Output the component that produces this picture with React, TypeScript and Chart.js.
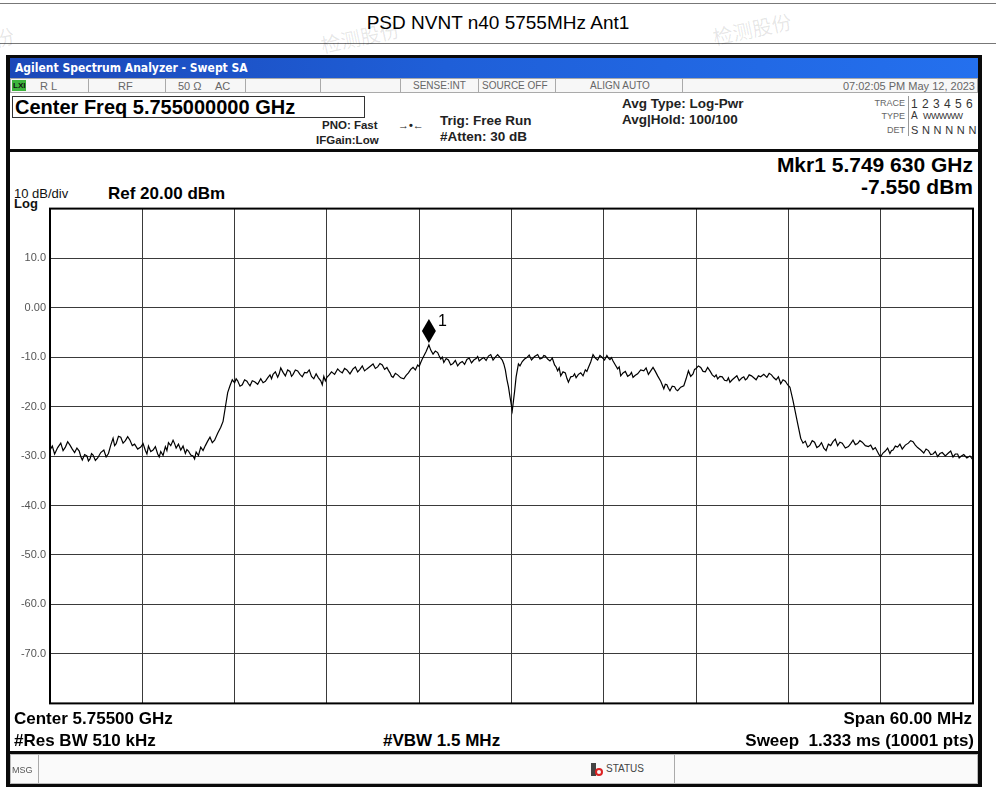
import React, { useEffect, useRef } from "react";
import { Chart, registerables } from "chart.js";

Chart.register(...registerables);

// ---- data (MHz, dBm) ----
const freqMHz = [
  5725.0, 5725.15, 5725.3, 5725.5, 5725.7, 5725.85, 5726.0, 5726.15, 5726.3, 5726.45,
  5726.6, 5726.75, 5726.9, 5727.0, 5727.1, 5727.25, 5727.4, 5727.5, 5727.6, 5727.7,
  5727.8, 5727.95, 5728.1, 5728.3, 5728.5, 5728.65, 5728.8, 5728.95, 5729.1, 5729.2,
  5729.3, 5729.45, 5729.6, 5729.75, 5729.9, 5730.05, 5730.2, 5730.35, 5730.5, 5730.7,
  5730.9, 5731.05, 5731.2, 5731.3, 5731.4, 5731.55, 5731.7, 5731.85, 5732.0, 5732.1,
  5732.2, 5732.35, 5732.5, 5732.6, 5732.7, 5732.85, 5733.0, 5733.1, 5733.2, 5733.35,
  5733.5, 5733.65, 5733.8, 5733.9, 5734.0, 5734.15, 5734.3, 5734.4, 5734.5, 5734.65,
  5734.8, 5734.95, 5735.1, 5735.25, 5735.4, 5735.55, 5735.7, 5735.9, 5736.1, 5736.25,
  5736.4, 5736.55, 5736.7, 5736.85, 5737.0, 5737.1, 5737.2, 5737.35, 5737.5, 5737.65,
  5737.8, 5737.9, 5738.0, 5738.15, 5738.3, 5738.5, 5738.7, 5738.85, 5739.0, 5739.15,
  5739.3, 5739.4, 5739.5, 5739.65, 5739.8, 5739.9, 5740.0, 5740.15, 5740.3, 5740.45,
  5740.6, 5740.7, 5740.8, 5740.95, 5741.1, 5741.25, 5741.4, 5741.55, 5741.7, 5741.85,
  5742.0, 5742.15, 5742.3, 5742.45, 5742.6, 5742.7, 5742.8, 5742.9, 5743.0, 5743.15,
  5743.3, 5743.5, 5743.7, 5743.85, 5744.0, 5744.15, 5744.3, 5744.5, 5744.7, 5744.85,
  5745.0, 5745.15, 5745.3, 5745.45, 5745.6, 5745.8, 5746.0, 5746.15, 5746.3, 5746.45,
  5746.6, 5746.75, 5746.9, 5747.0, 5747.1, 5747.2, 5747.3, 5747.45, 5747.6, 5747.8,
  5748.0, 5748.15, 5748.3, 5748.45, 5748.6, 5748.75, 5748.9, 5749.0, 5749.1, 5749.2,
  5749.3, 5749.45, 5749.63, 5749.75, 5749.9, 5750.05, 5750.2, 5750.3, 5750.4, 5750.5,
  5750.6, 5750.75, 5750.9, 5751.05, 5751.2, 5751.35, 5751.5, 5751.65, 5751.8, 5751.95,
  5752.1, 5752.25, 5752.4, 5752.55, 5752.7, 5752.8, 5752.9, 5753.05, 5753.2, 5753.35,
  5753.5, 5753.65, 5753.8, 5753.95, 5754.1, 5754.2, 5754.3, 5754.4, 5754.5, 5754.6,
  5754.7, 5754.8, 5754.9, 5755.05, 5755.2, 5755.3, 5755.45, 5755.55, 5755.7, 5755.85,
  5756.0, 5756.15, 5756.3, 5756.5, 5756.7, 5756.85, 5757.0, 5757.1, 5757.2, 5757.35,
  5757.5, 5757.65, 5757.8, 5757.9, 5758.0, 5758.1, 5758.2, 5758.35, 5758.5, 5758.6,
  5758.7, 5758.85, 5759.0, 5759.1, 5759.2, 5759.35, 5759.5, 5759.65, 5759.8, 5759.9,
  5760.0, 5760.15, 5760.3, 5760.45, 5760.6, 5760.75, 5760.9, 5761.05, 5761.2, 5761.3,
  5761.4, 5761.5, 5761.6, 5761.75, 5761.9, 5762.0, 5762.1, 5762.25, 5762.4, 5762.55,
  5762.7, 5762.8, 5762.9, 5763.05, 5763.2, 5763.4, 5763.6, 5763.75, 5763.9, 5764.05,
  5764.2, 5764.35, 5764.5, 5764.7, 5764.9, 5765.0, 5765.1, 5765.2, 5765.3, 5765.45,
  5765.6, 5765.7, 5765.8, 5766.0, 5766.2, 5766.35, 5766.5, 5766.65, 5766.8, 5766.9,
  5767.0, 5767.15, 5767.3, 5767.45, 5767.6, 5767.75, 5767.9, 5768.05, 5768.2, 5768.3,
  5768.4, 5768.55, 5768.7, 5768.85, 5769.0, 5769.1, 5769.2, 5769.35, 5769.5, 5769.65,
  5769.8, 5769.95, 5770.1, 5770.2, 5770.3, 5770.45, 5770.6, 5770.75, 5770.9, 5771.05,
  5771.2, 5771.4, 5771.6, 5771.75, 5771.9, 5772.05, 5772.2, 5772.35, 5772.5, 5772.65,
  5772.8, 5772.95, 5773.1, 5773.3, 5773.6, 5773.8, 5773.95, 5774.1, 5774.25, 5774.4,
  5774.55, 5774.7, 5774.85, 5775.0, 5775.15, 5775.3, 5775.45, 5775.6, 5775.75, 5775.9,
  5776.05, 5776.2, 5776.35, 5776.5, 5776.7, 5776.9, 5777.05, 5777.2, 5777.35, 5777.5,
  5777.65, 5777.8, 5778.0, 5778.2, 5778.35, 5778.5, 5778.65, 5778.8, 5778.9, 5779.0,
  5779.15, 5779.3, 5779.45, 5779.6, 5779.7, 5779.8, 5779.95, 5780.1, 5780.25, 5780.4,
  5780.6, 5780.8, 5780.95, 5781.1, 5781.25, 5781.4, 5781.6, 5781.8, 5781.95, 5782.1,
  5782.25, 5782.4, 5782.55, 5782.7, 5782.85, 5783.0, 5783.2, 5783.4, 5783.55, 5783.7,
  5783.85, 5784.0, 5784.1, 5784.2, 5784.4, 5784.6, 5784.8, 5785.0,
];

const levelDbm = [
  -28.8, -28.0, -29.6, -28.3, -27.4, -28.9, -28.2, -27.1, -27.8, -28.6,
  -29.3, -28.4, -29.0, -30.1, -30.8, -29.7, -30.0, -31.0, -30.6, -29.5,
  -29.8, -30.9, -30.4, -29.3, -28.8, -30.2, -29.5, -27.8, -26.4, -27.9,
  -27.5, -26.0, -26.2, -27.4, -26.9, -26.1, -26.8, -27.9, -27.6, -28.6,
  -28.2, -27.5, -28.9, -29.6, -28.0, -29.1, -28.8, -28.1, -29.6, -30.2,
  -29.1, -29.9, -28.1, -28.9, -27.3, -27.9, -26.8, -27.5, -28.4, -27.6,
  -28.8, -28.0, -29.5, -28.7, -29.0, -29.8, -30.0, -30.6, -29.2, -29.9,
  -28.2, -28.9, -27.9, -27.0, -26.2, -27.3, -26.8, -25.4, -24.2, -23.0,
  -20.1, -17.2, -15.8, -14.6, -15.2, -14.4, -14.8, -15.9, -15.6, -14.6,
  -14.9, -15.4, -15.8, -14.8, -15.0, -15.5, -14.4, -15.2, -14.9, -14.2,
  -13.6, -14.4, -13.5, -13.0, -14.1, -13.4, -12.2, -13.1, -13.8, -12.6,
  -12.9, -13.9, -13.5, -12.6, -12.8, -13.5, -14.0, -13.1, -13.2, -12.6,
  -13.9, -14.4, -13.4, -14.2, -14.8, -15.6, -13.9, -14.8, -14.1, -13.6,
  -13.0, -13.5, -12.4, -12.9, -13.2, -12.3, -12.6, -13.4, -12.4, -12.0,
  -13.0, -12.5, -11.8, -12.8, -12.4, -11.9, -11.4, -12.3, -12.0, -11.3,
  -11.6, -12.5, -12.1, -12.7, -13.2, -13.9, -14.1, -13.3, -13.6, -14.2,
  -14.4, -13.7, -13.2, -12.5, -12.1, -12.6, -11.6, -11.9, -11.1, -10.4,
  -9.8, -8.9, -7.55, -8.6, -9.4, -8.8, -9.1, -9.8, -10.4, -10.0,
  -11.1, -10.3, -10.6, -11.6, -11.3, -10.7, -11.8, -11.2, -10.9, -11.5,
  -10.5, -10.2, -11.2, -10.6, -10.3, -9.9, -10.8, -10.4, -10.1, -10.7,
  -9.8, -9.5, -10.6, -10.0, -9.5, -9.9, -10.2, -10.6, -11.4, -12.6,
  -14.5, -16.0, -18.0, -20.8, -17.0, -14.0, -11.4, -11.8, -10.9, -10.4,
  -10.1, -9.6, -10.6, -9.9, -9.5, -10.4, -10.2, -9.7, -9.8, -10.4,
  -10.8, -10.2, -11.6, -12.0, -12.8, -12.2, -13.8, -13.0, -13.2, -14.3,
  -15.1, -14.0, -13.9, -13.4, -14.2, -13.5, -13.2, -13.8, -12.6, -12.9,
  -12.1, -11.0, -9.5, -10.2, -10.6, -9.7, -10.1, -10.6, -9.7, -10.2,
  -10.5, -10.1, -10.8, -11.6, -12.4, -12.0, -13.8, -13.2, -12.9, -13.9,
  -13.6, -13.1, -14.1, -13.7, -13.4, -12.6, -12.8, -12.2, -13.5, -12.8,
  -12.1, -12.9, -13.8, -14.9, -16.4, -15.5, -15.6, -16.3, -16.8, -15.9,
  -16.0, -16.6, -16.8, -16.1, -15.8, -14.4, -12.8, -13.9, -13.4, -12.5,
  -12.3, -11.8, -12.1, -12.9, -13.0, -12.1, -12.8, -13.6, -14.0, -13.6,
  -14.4, -13.9, -14.0, -14.7, -14.8, -14.2, -15.1, -14.6, -14.2, -13.8,
  -14.8, -14.3, -14.0, -14.6, -14.4, -13.6, -13.8, -14.2, -14.6, -13.8,
  -14.0, -13.5, -14.1, -13.3, -13.6, -14.2, -14.6, -14.0, -15.4, -14.6,
  -14.9, -15.6, -16.1, -18.8, -23.4, -26.4, -27.4, -27.0, -28.2, -27.8,
  -26.9, -27.2, -28.3, -28.0, -27.3, -28.4, -28.9, -27.6, -27.9, -27.1,
  -26.6, -27.9, -27.2, -27.4, -28.4, -28.1, -27.5, -26.8, -27.7, -27.5,
  -26.9, -27.2, -27.9, -28.1, -27.8, -28.7, -28.3, -29.2, -29.8, -30.1,
  -29.4, -29.0, -28.4, -29.5, -28.9, -28.8, -28.0, -28.2, -27.6, -28.6,
  -27.8, -27.4, -26.9, -27.1, -27.8, -28.3, -28.8, -29.4, -28.6, -28.9,
  -29.7, -29.6, -29.1, -30.1, -29.5, -29.3, -30.0, -29.4, -29.0, -30.2,
  -29.6, -29.6, -30.4, -30.1, -29.7, -30.4, -30.0, -30.8,
];

const yTickValues = [20, 10, 0, -10, -20, -30, -40, -50, -60, -70, -80];
const yTickLabels = ["", "10.0", "0.00", "-10.0", "-20.0", "-30.0", "-40.0", "-50.0", "-60.0", "-70.0", ""];

const startMHz = 5725;
const stopMHz = 5785;
const freqDivMHz = 6;
const refLevelDbm = 20;
const bottomLevelDbm = -80;
const dbPerDiv = 10;

const markerFreqMHz = 5749.63;
const markerLevelDbm = -7.55;
const markerLabel = "1";

const FONT = '"Liberation Sans", Arial, Helvetica, sans-serif';

type TProps = {
  x: number;
  y: number;
  s: number;
  b?: boolean;
  a?: "left" | "right" | "center";
  c?: string;
  f?: string;
  ls?: number;
  children: React.ReactNode;
};

function T({ x, y, s, b, a = "left", c = "#000", f = FONT, ls, children }: TProps) {
  const style: React.CSSProperties = {
    position: "absolute",
    top: y,
    fontSize: s,
    fontWeight: b ? "bold" : "normal",
    color: c,
    fontFamily: f,
    lineHeight: 1,
    whiteSpace: "pre",
    transform: "translateY(-50%)",
    letterSpacing: ls,
  };
  if (a === "left") style.left = x;
  else if (a === "right") style.right = 996 - x;
  else {
    style.left = x;
    style.transform = "translate(-50%,-50%)";
  }
  return <div style={style}>{children}</div>;
}

function Box({ x, y, w, h, bg, bd }: { x: number; y: number; w: number; h: number; bg?: string; bd?: string }) {
  return (
    <div
      style={{
        position: "absolute",
        left: x,
        top: y,
        width: w,
        height: h,
        background: bg,
        border: bd,
        boxSizing: "border-box",
      }}
    />
  );
}

const framePlugin = {
  id: "saFrame",
  afterDraw(chart: any) {
    const { ctx, chartArea: a, scales } = chart;
    ctx.save();
    ctx.strokeStyle = "#000";
    ctx.lineWidth = 2;
    ctx.strokeRect(a.left, a.top, a.right - a.left, a.bottom - a.top);
    const x = scales.x.getPixelForValue(markerFreqMHz);
    const y = scales.y.getPixelForValue(markerLevelDbm);
    ctx.fillStyle = "#000";
    ctx.beginPath();
    ctx.moveTo(x, y - 2);
    ctx.lineTo(x + 7, y - 14);
    ctx.lineTo(x, y - 26);
    ctx.lineTo(x - 7, y - 14);
    ctx.closePath();
    ctx.fill();
    ctx.font = `16px ${FONT}`;
    ctx.textBaseline = "alphabetic";
    ctx.fillText(markerLabel, x + 9, y - 19);
    ctx.restore();
  },
};

function SAChart() {
  const ref = useRef<HTMLCanvasElement | null>(null);
  useEffect(() => {
    if (!ref.current) return;
    const data = freqMHz.map((f, i) => ({ x: f, y: levelDbm[i] }));
    const chart = new Chart(ref.current, {
      type: "line",
      data: {
        datasets: [
          {
            data,
            borderColor: "#000",
            borderWidth: 1.2,
            pointRadius: 0,
            tension: 0,
            fill: false,
          },
        ],
      },
      options: {
        animation: false,
        responsive: true,
        maintainAspectRatio: false,
        layout: { padding: { left: 0, right: 3, top: 8, bottom: 8 } },
        plugins: { legend: { display: false }, tooltip: { enabled: false }, title: { display: false } },
        scales: {
          x: {
            type: "linear",
            min: startMHz,
            max: stopMHz,
            ticks: { display: false, stepSize: freqDivMHz },
            grid: { drawTicks: false, color: "#3a3a3a", lineWidth: 1 },
            border: { display: false },
            afterFit: (s: any) => {
              s.height = 0;
            },
          },
          y: {
            type: "linear",
            min: bottomLevelDbm,
            max: refLevelDbm,
            ticks: {
              stepSize: dbPerDiv,
              padding: 4,
              color: "#555",
              font: { size: 11, family: FONT },
              callback: (v: any) => {
                const i = yTickValues.indexOf(Number(v));
                return i >= 0 && yTickLabels[i] ? yTickLabels[i] : null;
              },
            },
            grid: { drawTicks: false, color: "#3a3a3a", lineWidth: 1 },
            border: { display: false },
            afterFit: (s: any) => {
              s.width = 40;
            },
          },
        },
      },
      plugins: [framePlugin],
    } as any);
    return () => chart.destroy();
  }, []);
  return <canvas ref={ref} style={{ width: "100%", height: "100%" }} />;
}

export default function App() {
  const gray = "#666";
  const seps = [88, 165, 245, 320, 400, 478, 555, 682];
  const wm: React.CSSProperties = {
    position: "absolute",
    fontSize: 20,
    color: "rgba(0,0,0,0.1)",
    fontFamily: '"Noto Sans CJK SC"',
    transform: "rotate(-12deg)",
  };
  return (
    <div
      style={{
        position: "absolute",
        left: 0,
        top: 0,
        width: 996,
        height: 787,
        background: "#fff",
        overflow: "hidden",
        fontFamily: FONT,
      }}
    >
      {/* page header */}
      <Box x={0} y={3} w={996} h={1} bg="#777" />
      <Box x={0} y={43} w={996} h={1} bg="#777" />
      <T x={498} y={22} s={19} a="center">PSD NVNT n40 5755MHz Ant1</T>
      {/* faint watermarks */}
      <div style={{ ...wm, left: 320, top: 22 }}>检测股份</div>
      <div style={{ ...wm, left: 712, top: 14 }}>检测股份</div>
      <div style={{ ...wm, left: -6, top: 22 }}>份</div>

      {/* analyzer window frame */}
      <Box x={6} y={55} w={976} h={732} bg="#fff" bd="4px solid #0a0a0a" />
      <div
        style={{
          position: "absolute",
          left: 10,
          top: 58,
          width: 968,
          height: 20,
          background: "linear-gradient(to right, #1b48b8 0%, #1f5fd8 45%, #2470ee 100%)",
        }}
      />
      <T x={15} y={68} s={12} b c="#fff" f='"DejaVu Sans Condensed", "Liberation Sans", Arial'>Agilent Spectrum Analyzer - Swept SA</T>

      {/* status row */}
      <Box x={10} y={78} w={968} h={15} bg="#f7f7f7" bd="1px solid #aaa" />
      {seps.map((sx) => (
        <Box key={sx} x={sx} y={79} w={1} h={13} bg="#aaa" />
      ))}
      <Box x={12} y={80} w={14} h={11} bg="#3cb43c" />
      <T x={13} y={86} s={8} b c="#111">LXI</T>
      <T x={40} y={86} s={11} c={gray}>R L</T>
      <T x={118} y={86} s={11} c={gray}>RF</T>
      <T x={178} y={86} s={11} c={gray}>50 Ω</T>
      <T x={215} y={86} s={11} c={gray}>AC</T>
      <T x={413} y={86} s={10} c={gray}>SENSE:INT</T>
      <T x={482} y={86} s={10} c={gray}>SOURCE OFF</T>
      <T x={590} y={86} s={10} c={gray}>ALIGN AUTO</T>
      <T x={975} y={86} s={11} a="right" c={gray}>07:02:05 PM May 12, 2023</T>

      {/* settings */}
      <Box x={12} y={96} w={353} h={22} bd="1px solid #333" />
      <T x={15} y={107} s={20} b>Center Freq 5.755000000 GHz</T>
      <T x={322} y={126} s={11.5} b c="#222">PNO: Fast</T>
      <T x={316} y={141} s={11.5} b c="#222">IFGain:Low</T>
      <T x={398} y={125} s={11} b c="#222">{"→•←"}</T>
      <T x={440} y={121} s={13.5} b c="#222">Trig: Free Run</T>
      <T x={440} y={137} s={13.5} b c="#222">#Atten: 30 dB</T>
      <T x={622} y={104} s={13.5} b c="#222">Avg Type: Log-Pwr</T>
      <T x={622} y={120} s={13.5} b c="#222">Avg|Hold: 100/100</T>
      <T x={905} y={103} s={9} a="right" c={gray}>TRACE</T>
      <T x={905} y={116} s={9} a="right" c={gray}>TYPE</T>
      <T x={905} y={130} s={9} a="right" c={gray}>DET</T>
      <Box x={908} y={96} w={1} h={40} bg="#999" />
      <T x={911} y={104} s={12} c="#333" ls={0.5}>1 2 3 4 5 6</T>
      <T x={911} y={116} s={10} c="#333">A</T>
      <T x={923} y={116} s={9} c="#333" ls={-0.6}>WWWWW</T>
      <T x={911} y={130} s={11} c="#333" ls={0.3}>S N N N N N</T>

      {/* header / panel separator */}
      <Box x={10} y={149} w={968} h={3} bg="#0a0a0a" />

      {/* panel annotations */}
      <T x={14} y={193} s={13} c="#111">10 dB/div</T>
      <T x={14} y={203} s={13} b c="#111">Log</T>
      <T x={108} y={193} s={17} b>Ref 20.00 dBm</T>
      <T x={973} y={164} s={21} b a="right">Mkr1 5.749 630 GHz</T>
      <T x={973} y={186} s={21} b a="right">-7.550 dBm</T>

      {/* plot */}
      <div style={{ position: "absolute", left: 10, top: 198, width: 966, height: 516 }}>
        <SAChart />
      </div>

      {/* bottom annotations */}
      <T x={14} y={718} s={17} b>Center 5.75500 GHz</T>
      <T x={972} y={718} s={17} b a="right">Span 60.00 MHz</T>
      <T x={14} y={740} s={17} b>#Res BW 510 kHz</T>
      <T x={383} y={740} s={17} b>#VBW 1.5 MHz</T>
      <T x={974} y={740} s={17} b a="right">Sweep  1.333 ms (10001 pts)</T>

      {/* message bar */}
      <Box x={10} y={751} w={968} h={3} bg="#0a0a0a" />
      <Box x={10} y={754} w={968} h={30} bg="#fafafa" bd="1px solid #bbb" />
      <Box x={38} y={755} w={1} h={28} bg="#aaa" />
      <Box x={674} y={755} w={1} h={28} bg="#aaa" />
      <T x={12} y={770} s={9} c="#555">MSG</T>
      <Box x={591} y={763} w={5} h={13} bg="#444" />
      <div style={{ position: "absolute", left: 595, top: 768, width: 8, height: 8, borderRadius: 4, border: "2px solid #d22", boxSizing: "border-box" }} />
      <T x={606} y={769} s={10} c="#444">STATUS</T>
    </div>
  );
}
